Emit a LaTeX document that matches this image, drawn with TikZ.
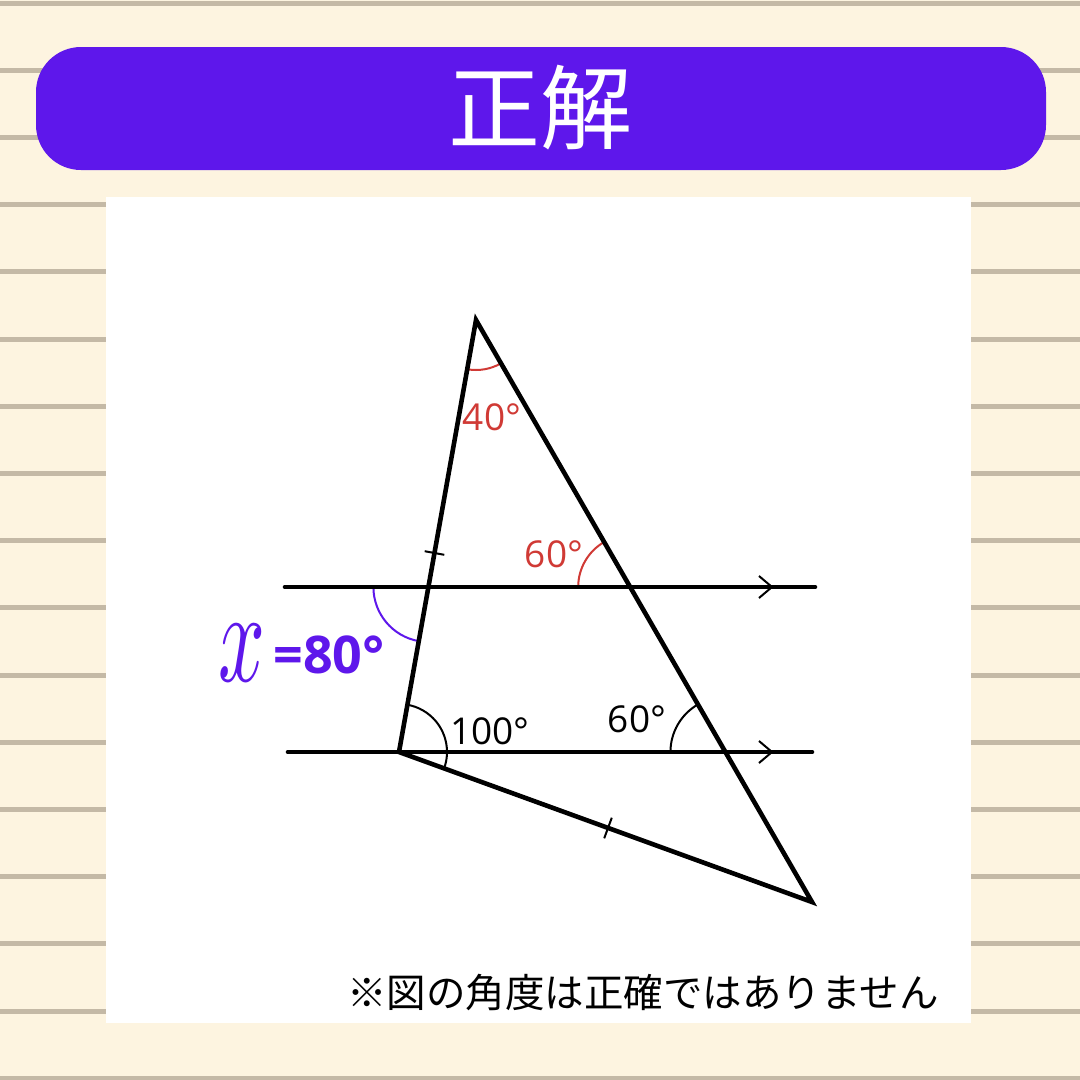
\documentclass[tikz,border=0pt]{standalone}
\usepackage{fontspec}
\setmainfont{Open Sans}
\newfontfamily\cjk{Noto Sans CJK JP}
\definecolor{cream}{HTML}{FDF4E0}
\definecolor{stripe}{HTML}{C4B9A6}
\definecolor{banner}{HTML}{5E17EB}
\definecolor{angred}{HTML}{D03A35}
\begin{document}
\begin{tikzpicture}[x=1pt,y=1pt,
  mainline/.style={line width=4.6pt, line cap=round},
  thin/.style={line width=2pt},
  anglabel/.style={inner sep=0pt, font=\fontsize{37}{37}\selectfont},
  chev/.style={line width=2pt, line join=miter}]
\useasboundingbox (0,0) rectangle (1080,-1080);
\fill[cream] (0,0) rectangle (1080,-1080);
\foreach \i in {0,...,16} {
  \draw[stripe, line width=5pt] (0,{-3-67.2*\i}) -- (1080,{-3-67.2*\i});
}
\fill[banner, rounded corners=45pt] (36,-47) rectangle (1046,-170);
\node[text=white, inner sep=0pt, font=\cjk\fontsize{92}{92}\selectfont] (title) at (540,-108) {正解};
\fill[white] (106,-197) rectangle (971,-1023);

% points
\coordinate (A) at (476,-320);
\coordinate (B) at (399,-752);
\coordinate (C) at (812,-902);
\coordinate (U1) at (285,-587);
\coordinate (U2) at (815,-587);
\coordinate (W1) at (288,-752);
\coordinate (W2) at (812,-752);
\coordinate (P) at (intersection of A--B and U1--U2);
\coordinate (Q) at (intersection of A--C and U1--U2);
\coordinate (R) at (intersection of A--C and W1--W2);

% angle arcs
\draw[thin, angred] (A) ++(260:50) arc[start angle=260, end angle=300, radius=50];
\draw[thin, angred] (Q) ++(120:52) arc[start angle=120, end angle=180, radius=52];
\draw[thin, black] (R) ++(120:55) arc[start angle=120, end angle=180, radius=55];
\draw[thin, black] (B) ++(-20:48) arc[start angle=-20, end angle=80, radius=48];
\draw[thin, banner] (P) ++(180:55) arc[start angle=180, end angle=260, radius=55];

% lines
\draw[mainline] (U1) -- (U2);
\draw[mainline] (W1) -- (W2);
\draw[mainline, line join=miter] (A) -- (B) -- (C) -- cycle;

% chevrons
\coordinate (ch1t) at (772,-587);
\coordinate (ch1a) at (759,-576);
\coordinate (ch1b) at (759,-598);
\coordinate (ch2t) at (772,-752);
\coordinate (ch2a) at (759,-741);
\coordinate (ch2b) at (759,-763);
\draw[chev] (ch1a) -- (ch1t) -- (ch1b);
\draw[chev] (ch2a) -- (ch2t) -- (ch2b);

% ticks
\coordinate (t1a) at (424.7,-551.2);
\coordinate (t1b) at (444.3,-554.8);
\coordinate (t2a) at (611.8,-817.7);
\coordinate (t2b) at (604.2,-838.3);
\draw[thin] (t1a) -- (t1b);
\draw[thin] (t2a) -- (t2b);

% labels
\node[anglabel, text=angred] (l40) at (492,-417) {40°};
\node[anglabel, text=angred] (l60r) at (554,-554) {60°};
\node[anglabel] (l100) at (490,-731) {100°};
\node[anglabel] (l60b) at (637,-719) {60°};
\node[inner sep=0pt, text=banner] (xl) at (241.5,-653.5) {\scalebox{8.2}[13.2]{$x$}};
\node[inner sep=0pt, text=banner, font=\bfseries\fontsize{52}{52}\selectfont] (eq) at (329,-655) {=80°};

\node[inner sep=0pt, font=\cjk\fontsize{39.5}{39.5}\selectfont] (note) at (643,-993) {※図の角度は正確ではありません};
\end{tikzpicture}
\end{document}
